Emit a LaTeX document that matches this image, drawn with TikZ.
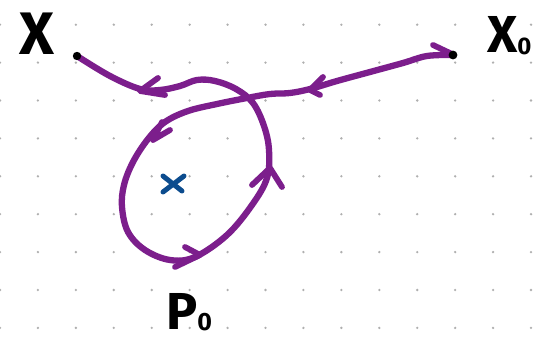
\documentclass[tikz,border=0pt]{standalone}
\usepackage{fontspec}
\setmainfont{Fira Sans}
\definecolor{pathpurple}{RGB}{124,30,140}
\definecolor{markblue}{RGB}{12,76,142}
\definecolor{dotgray}{RGB}{175,175,175}
\tikzset{
  loopline/.style={draw=pathpurple, line width=6.3pt, line cap=round, line join=round},
  chev/.style={draw=pathpurple, line width=5.8pt, line cap=round, line join=round},
  ptdot/.style={fill=black},
  handtext/.style={inner sep=0pt, font=\bfseries, text=black}
}
\begin{document}
\begin{tikzpicture}[x=1pt, y=-1pt]
  % canvas
  \fill[white] (0,0) rectangle (541,344);
  \useasboundingbox (0,0) rectangle (541,344);

  % dotted grid paper
  \foreach \i in {0,...,14}
    \foreach \j in {0,...,8}
      \fill[dotgray] (37.93*\i, 24.7+37.9*\j) circle (1.3pt);

  % end points of the path
  \coordinate (xo) at (453,55);
  \coordinate (xx) at (77,56);

  % the path from x0, around the loop, to x
  \draw[loopline] plot[smooth, tension=0.6] coordinates {
    (xo) (427,56) (403,63) (370,72) (337,81) (310,89) (290,93) (270,94)
    (247,98) (217,104) (188,111) (165,122) (148,139) (133,162)
    (124,185) (122,207) (128,232) (145,250) (170,260) (195,257)
    (227,235) (252,205) (267,178) (269,150) (264,126) (253,103)
    (236,89) (215,81) (197,80) (180,86) (160,90) (140,89) (110,76) (xx)};

  % direction marks along the path
  \draw[chev] (158,78) -- (140,91) -- (165,95);
  \draw[chev] (162,122) -- (153,140) -- (170,130);
  \draw[chev] (185,247) -- (200,255) -- (175,267);
  \draw[chev] (252,185) -- (270,168) -- (282,187);
  \draw[chev] (323,77) -- (310,90) -- (320,95);
  \draw[chev] (433,45) -- (452,54);

  % end point dots
  \fill[ptdot] (xo) circle (4.4pt);
  \fill[ptdot] (xx) circle (4.2pt);

  % base point
  \draw[draw=markblue, line width=5pt, line cap=round] (163,176) -- (182,191);
  \draw[draw=markblue, line width=5pt, line cap=round] (163,192) -- (184,176);

  % labels
  \node[handtext, anchor=base west] (lx) at (19,55) {\fontsize{60}{60}\selectfont X};
  \node[handtext, anchor=base west] (lxo) at (487,53)
    {\fontsize{52}{52}\selectfont X\raisebox{-2pt}{\fontsize{24}{24}\selectfont 0}};
  \node[handtext, anchor=base west] (lp) at (166,330)
    {\fontsize{52}{52}\selectfont P\raisebox{-1pt}{\fontsize{25}{25}\selectfont 0}};
\end{tikzpicture}
\end{document}
